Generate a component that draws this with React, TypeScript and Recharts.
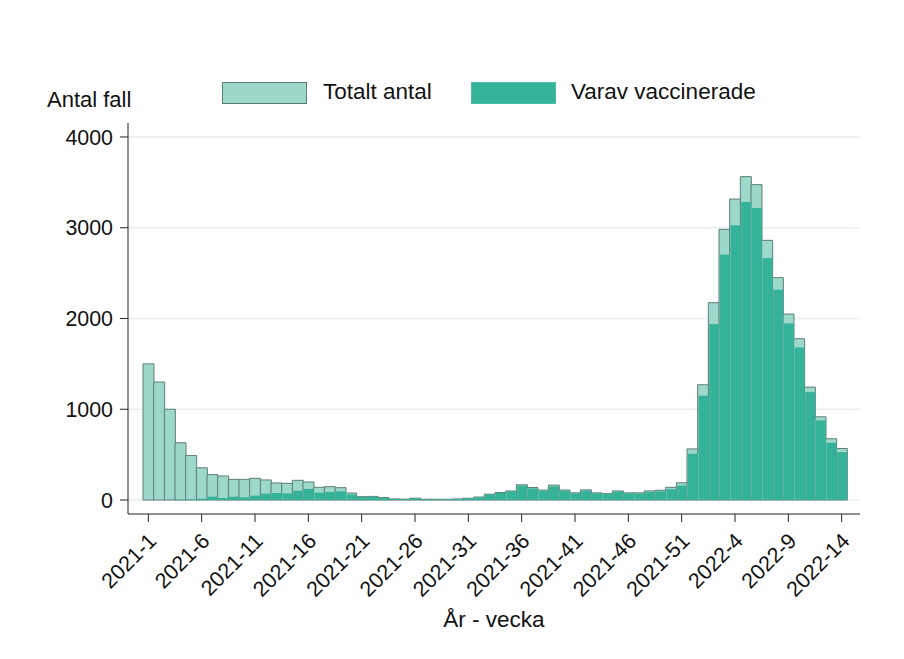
import React from 'react';
import { BarChart, Bar, XAxis, YAxis, CartesianGrid, Legend } from 'recharts';

// Week labels, 2021-1 .. 2021-52 then 2022-1 .. 2022-14
const weeks2021 = Array.from({ length: 52 }, (_, i) => `2021-${i + 1}`);
const weeks2022 = Array.from({ length: 14 }, (_, i) => `2022-${i + 1}`);
const weekLabels = [...weeks2021, ...weeks2022];

// Totalt antal
const totalCases = [
  1500, 1300, 1000, 630, 490, 355, 280, 265, 228, 228,
  239, 221, 188, 184, 217, 199, 140, 147, 136, 77,
  37, 40, 28, 12, 10, 20, 8, 8, 8, 12,
  20, 33, 64, 83, 100, 168, 138, 110, 164, 110,
  79, 112, 79, 70, 100, 79, 79, 100, 108, 140,
  190, 563,
  1270, 2174, 2982, 3316, 3563, 3475, 2861, 2450, 2049, 1777,
  1244, 917, 675, 568,
];

// Varav vaccinerade
const vaccinatedCases = [
  0, 0, 2, 4, 6, 15, 37, 22, 37, 30,
  48, 70, 77, 73, 103, 122, 81, 88, 96, 62,
  33, 35, 25, 10, 8, 18, 7, 7, 7, 10,
  18, 30, 60, 78, 94, 158, 128, 100, 150, 100,
  73, 102, 73, 65, 92, 73, 72, 88, 96, 120,
  160, 509,
  1149, 1938, 2703, 3026, 3283, 3217, 2666, 2317, 1946, 1681,
  1189, 877, 631, 527,
];

const yTicks = [0, 1000, 2000, 3000, 4000];
// axis runs a little past 0 and 4000 at both ends
const yDomain = [-154, 4154];

const LIGHT = '#9dd9ca';
const DARK = '#35b399';
const EDGE = '#5f7d77';
const FONT = '"Liberation Sans", Arial, sans-serif';

const data = weekLabels.map((week, i) => ({
  week,
  total: totalCases[i],
  vacc: vaccinatedCases[i],
}));

// vaccinated bar sits inside the outline of the total bar
const InsetBar = (props: any) => {
  const { x, y, width, height } = props;
  if (!height || height <= 0) return null;
  return <rect x={x + 0.5} y={y} width={Math.max(width - 1, 0)} height={height} fill={DARK} />;
};

const WeekTick = (props: any) => {
  const { x, y, payload } = props;
  return (
    <g transform={`translate(${x + 4},${y + 13})`}>
      <text
        x={0}
        y={0}
        dy="0.35em"
        textAnchor="end"
        transform="rotate(-45)"
        fontSize={21.5}
        fill="#111"
        fontFamily={FONT}
      >
        {payload.value}
      </text>
    </g>
  );
};

const LegendBox = () => (
  <div style={{ position: 'relative', width: 904, height: 40, fontFamily: FONT, color: '#111' }}>
    <span style={{ position: 'absolute', left: 47, top: 9, fontSize: 22 }}>Antal fall</span>
    <span
      style={{
        position: 'absolute', left: 222, top: 4, width: 85, height: 22,
        background: LIGHT, border: `1px solid ${EDGE}`, boxSizing: 'border-box',
      }}
    />
    <span style={{ position: 'absolute', left: 323, top: 1, fontSize: 22.5 }}>Totalt antal</span>
    <span
      style={{
        position: 'absolute', left: 471, top: 4, width: 85, height: 22,
        background: DARK, border: '1px solid #4fc0a8', boxSizing: 'border-box',
      }}
    />
    <span style={{ position: 'absolute', left: 571, top: 1, fontSize: 22.5 }}>Varav vaccinerade</span>
  </div>
);

export default function App() {
  return (
    <div style={{ position: 'absolute', left: 0, top: 0, width: 904, height: 659, background: '#fff' }}>
      <BarChart
        width={904}
        height={659}
        data={data}
        margin={{ top: 123, right: 44, bottom: 25, left: 0 }}
        barCategoryGap={0}
        barGap="-100%"
      >
        <CartesianGrid vertical={false} syncWithTicks stroke="#e6edef" strokeWidth={1.5} />
        <XAxis
          dataKey="week"
          interval={4}
          height={120}
          padding={{ left: 15, right: 13 }}
          tick={<WeekTick />}
          tickSize={8}
          tickLine={{ stroke: '#222' }}
          axisLine={{ stroke: '#222' }}
          label={{ value: 'År - vecka', position: 'insideBottom', offset: 7, fontSize: 22.5, fill: '#111', fontFamily: FONT }}
        />
        <YAxis
          width={128}
          type="number"
          domain={yDomain}
          ticks={yTicks}
          tickSize={8}
          tickMargin={7}
          tickLine={{ stroke: '#222' }}
          axisLine={{ stroke: '#222' }}
          tick={{ fontSize: 21.4, fill: '#111', fontFamily: FONT }}
        />
        <Legend
          verticalAlign="middle"
          align="center"
          layout="horizontal"
          wrapperStyle={{ position: 'absolute', top: 78, left: 0, width: 904 }}
          content={<LegendBox />}
        />
        <Bar dataKey="total" name="Totalt antal" fill={LIGHT} stroke={EDGE} strokeWidth={1} isAnimationActive={false} />
        <Bar dataKey="vacc" name="Varav vaccinerade" fill={DARK} shape={<InsetBar />} isAnimationActive={false} />
      </BarChart>
    </div>
  );
}
